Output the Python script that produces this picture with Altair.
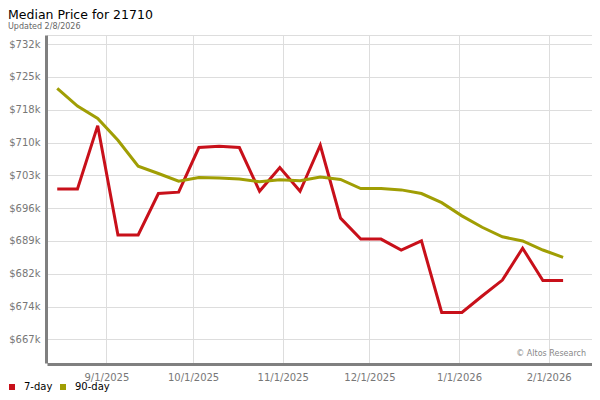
import altair as alt
import pandas as pd

# Weekly dates
dates = [
    "2025-08-15", "2025-08-22", "2025-08-29", "2025-09-05", "2025-09-12",
    "2025-09-19", "2025-09-26", "2025-10-03", "2025-10-10", "2025-10-17",
    "2025-10-24", "2025-10-31", "2025-11-07", "2025-11-14", "2025-11-21",
    "2025-11-28", "2025-12-05", "2025-12-12", "2025-12-19", "2025-12-26",
    "2026-01-02", "2026-01-09", "2026-01-16", "2026-01-23", "2026-01-30",
    "2026-02-06",
]
# Median price in $k
seven_day = [
    700.2, 700.2, 714.1, 690.1, 690.1, 699.2, 699.5, 709.3, 709.6, 709.3,
    699.7, 704.9, 699.7, 709.8, 693.8, 689.2, 689.2, 686.8, 688.8, 673.1,
    673.1, 676.7, 680.2, 687.2, 680.1, 680.1,
]
ninety_day = [
    722.3, 718.4, 715.7, 710.9, 705.2, 703.6, 701.9, 702.7, 702.6, 702.4,
    701.8, 702.2, 702.0, 702.8, 702.3, 700.3, 700.3, 700.0, 699.2, 697.2,
    694.3, 691.8, 689.7, 688.8, 686.8, 685.2,
]
series_names = ["7-day", "90-day"]
series_colors = ["#c8101a", "#a09e04"]
y_ticks = [667.2, 674.4, 681.6, 688.8, 696.0, 703.2, 710.4, 717.6, 724.8, 732.0]
x_ticks = [(2025, 9), (2025, 10), (2025, 11), (2025, 12), (2026, 1), (2026, 2)]

rows = []
for d, a, b in zip(dates, seven_day, ninety_day):
    rows.append({"date": d + "T00:00", "series": series_names[0], "price": a})
    rows.append({"date": d + "T00:00", "series": series_names[1], "price": b})
df = pd.DataFrame(rows)

x_scale = alt.Scale(domain=[
    alt.DateTime(year=2025, month=8, date=11, hours=11),
    alt.DateTime(year=2026, month=2, date=16, hours=0),
])
y_scale = alt.Scale(domain=[662.0, 734.0], nice=False, zero=False)

lines = alt.Chart(df).mark_line(strokeWidth=3, clip=True).encode(
    x=alt.X(
        "date:T",
        scale=x_scale,
        axis=alt.Axis(
            values=[alt.DateTime(year=y, month=m, date=1) for y, m in x_ticks],
            format="%-m/%-d/%Y",
            title=None,
            grid=True,
            gridColor="#dddddd",
            tickSize=0,
            labelColor="#777777",
            labelFontSize=10,
            labelFont="DejaVu Sans",
            labelPadding=8,
            domainColor="#808080",
            domainWidth=3,
            offset=1,
        ),
    ),
    y=alt.Y(
        "price:Q",
        scale=y_scale,
        axis=alt.Axis(
            values=y_ticks,
            labelExpr='"$" + format(datum.value, ".0f") + "k"',
            title=None,
            grid=True,
            gridColor="#dddddd",
            tickSize=0,
            labelColor="#777777",
            labelFontSize=10,
            labelFont="DejaVu Sans",
            labelPadding=6,
            domainColor="#808080",
            domainWidth=3,
            offset=1,
        ),
    ),
    color=alt.Color(
        "series:N",
        scale=alt.Scale(domain=series_names, range=series_colors),
        legend=alt.Legend(
            title=None,
            orient="none",
            legendX=-40,
            legendY=347,
            direction="horizontal",
            symbolType="square",
            symbolSize=4,
            symbolStrokeWidth=4,
            labelFontSize=10,
            labelFont="DejaVu Sans",
            labelColor="#000000",
            columnPadding=1,
            labelOffset=7,
        ),
    ),
)

watermark = alt.Chart(pd.DataFrame({"t": ["\u00a9 Altos Research"]})).mark_text(
    align="right", baseline="middle", fontSize=8, font="DejaVu Sans", color="#888888"
).encode(x=alt.value(539), y=alt.value(319), text="t:N")

chart = alt.layer(lines, watermark).properties(
    width=545,
    height=328,
    autosize=alt.AutoSizeParams(type="none"),
    padding={"left": 39, "top": 27, "right": 0, "bottom": 29},
    title=alt.TitleParams(
        text="Median Price for 21710",
        subtitle="Updated 2/8/2026",
        anchor="start",
        frame="group",
        dx=-39,
        offset=4,
        font="DejaVu Sans",
        fontSize=12.5,
        fontWeight="normal",
        color="#000000",
        subtitleFont="DejaVu Sans",
        subtitleFontSize=8,
        subtitleColor="#666666",
        subtitlePadding=1.5,
    ),
).configure_view(stroke="#dddddd", strokeWidth=1)

chart.save("out.html", embed_options={"renderer": "svg", "actions": False})
